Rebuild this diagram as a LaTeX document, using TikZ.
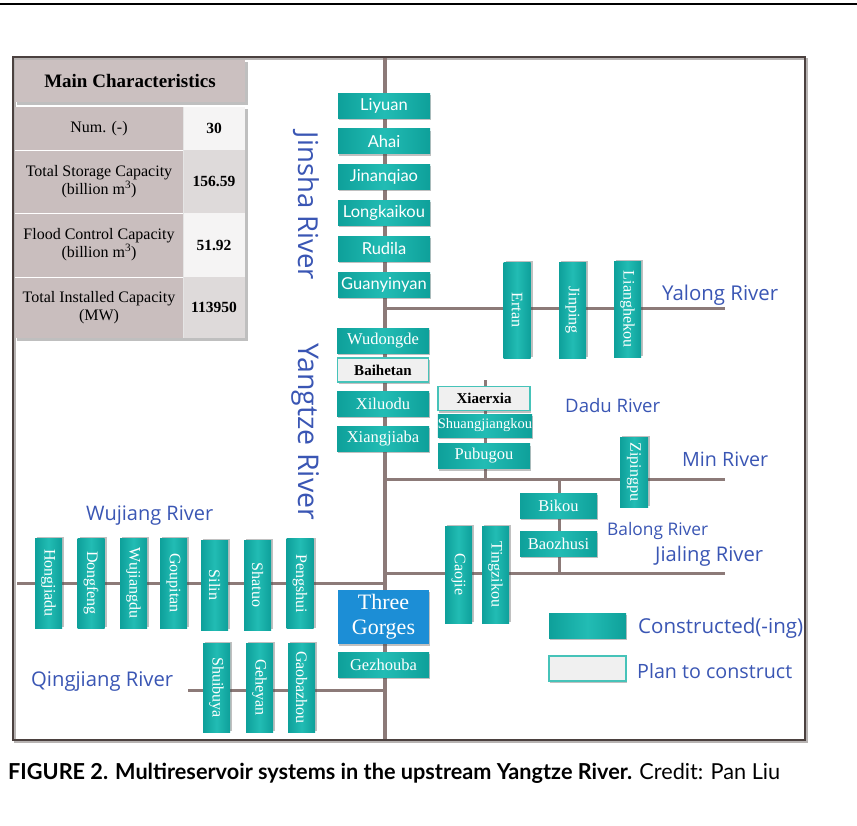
\documentclass[tikz,border=0pt]{standalone}
\usepackage{fontspec}
\setmainfont{Liberation Serif}
\newfontfamily\lsans{Lato}
\newfontfamily\osans{Open Sans}
\usetikzlibrary{shadows}
\newcommand{\fitw}[2]{\resizebox{#1}{!}{#2}}
\definecolor{tealbox}{RGB}{34,188,180}
\definecolor{tealdark}{RGB}{14,160,154}
\definecolor{riverline}{RGB}{140,122,120}
\definecolor{frameC}{RGB}{75,65,63}
\definecolor{blueTxt}{RGB}{58,86,180}
\definecolor{tgblue}{RGB}{28,142,214}
\definecolor{plangray}{RGB}{240,240,240}
\definecolor{planborder}{RGB}{70,195,185}
\definecolor{hdrC}{RGB}{203,192,192}
\definecolor{cellL}{RGB}{201,190,190}
\definecolor{cellR1}{RGB}{245,244,244}
\definecolor{cellR2}{RGB}{222,218,218}
\tikzset{
  shd/.style={drop shadow={shadow xshift=1pt,shadow yshift=-2pt,opacity=.35,fill=black!70}},
  shdv/.style={drop shadow={shadow xshift=2pt,shadow yshift=1pt,opacity=.35,fill=black!70}},
  tealfill/.style={left color=tealdark,right color=tealdark,middle color=tealbox},
  hbox/.style={tealfill,shd,minimum width=92pt,minimum height=25pt,inner sep=0pt,text=white},
  jbox/.style={hbox,font=\lsans\fontsize{16.5}{16.5}\selectfont},
  sbox/.style={hbox,font=\fontsize{16.5}{16.5}\selectfont},
  planbox/.style={draw=planborder,line width=1.2pt,fill=plangray,shd,minimum width=91pt,minimum height=24pt,inner sep=0pt,text=black,font=\bfseries\fontsize{15}{15}\selectfont},
  vbox/.style={tealfill,shdv,rotate=-90,minimum width=#1,minimum height=27pt,inner sep=0pt,text=white,font=\fontsize{16}{16}\selectfont},
  river/.style={draw=riverline,line width=3pt},
  mainriver/.style={draw=riverline,line width=4.5pt},
  rlabel/.style={text=blueTxt,font=\osans\fontsize{20}{20}\selectfont,inner sep=0pt},
  tcell/.style={align=center,font=\fontsize{16}{18}\selectfont,inner sep=0pt},
  tnum/.style={font=\bfseries\fontsize{15.5}{17}\selectfont,inner sep=0pt}
}
\begin{document}
\begin{tikzpicture}[x=1pt,y=-1pt]
\useasboundingbox (0,0) rectangle (857,825);
\fill[white] (0,0) rectangle (857,825);
% top rule
\draw[line width=2pt] (0,4) -- (857,4);
% frame
\draw[frameC!40,line width=2pt] (15,59) rectangle (807,742);
\draw[frameC,line width=2pt] (13,57) rectangle (805,740);

% table
\fill[black!25] (17,62) rectangle (248,105);
\fill[black!25] (17,109) rectangle (248,341);
\fill[hdrC] (15,60) rectangle (245,102);
\fill[cellL] (15,107) rectangle (183,338);
\fill[cellR1] (183,107) rectangle (245,150);
\fill[cellR2] (183,150) rectangle (245,213);
\fill[cellR1] (183,213) rectangle (245,277);
\fill[cellR2] (183,277) rectangle (245,338);
\draw[white,line width=1pt] (15,150) -- (183,150) (15,213) -- (183,213) (15,277) -- (183,277);
\draw[white!90!black,line width=0.8pt] (183,107) -- (183,338);
\node[font=\bfseries\fontsize{19}{20}\selectfont,inner sep=0pt] (thead) at (130,81) {Main Characteristics};
\node[tcell] (t1a) at (99,128.5) {Num. (-)};
\node[tnum] (t1b) at (214,128.5) {30};
\node[tcell] (t2a) at (99,181.5) {Total Storage Capacity\\(billion m\textsuperscript{3})};
\node[tnum] (t2b) at (214,181.5) {156.59};
\node[tcell] (t3a) at (99,245) {Flood Control Capacity\\(billion m\textsuperscript{3})};
\node[tnum] (t3b) at (214,245) {51.92};
\node[tcell] (t4a) at (99,307.5) {Total Installed Capacity\\(MW)};
\node[tnum] (t4b) at (214,307.5) {113950};

% river coordinates
\coordinate (ytop) at (385,58);
\coordinate (ybot) at (385,739);
\coordinate (yal0) at (385,308);
\coordinate (yal1) at (725,308);
\coordinate (min0) at (385,479);
\coordinate (min1) at (725,479);
\coordinate (dadu0) at (485,380);
\coordinate (dadu1) at (485,479);
\coordinate (bal0) at (559,479);
\coordinate (bal1) at (559,573);
\coordinate (jia0) at (385,573);
\coordinate (jia1) at (725,573);
\coordinate (wu0) at (17,583);
\coordinate (wu1) at (385,583);
\coordinate (qj0) at (188,690);
\coordinate (qj1) at (385,690);

\draw[river] (yal0) -- (yal1);
\draw[river] (min0) -- (min1);
\draw[river] (dadu0) -- (dadu1);
\draw[river] (bal0) -- (bal1);
\draw[river] (jia0) -- (jia1);
\draw[river] (wu0) -- (wu1);
\draw[river] (qj0) -- (qj1);
\draw[mainriver] (ytop) -- (ybot);

% Jinsha
\node[jbox] (liyuan) at (384,105.5) {Liyuan};
\node[jbox] (ahai) at (384,141) {Ahai};
\node[jbox] (jinanqiao) at (384,176.5) {Jinanqiao};
\node[jbox] (longkaikou) at (384,212.5) {Longkaikou};
\node[jbox] (rudila) at (384,248.5) {Rudila};
\node[jbox] (guanyinyan) at (384,284.5) {Guanyinyan};
% Yangtze
\node[sbox] (wudongde) at (383,340.5) {Wudongde};
\node[planbox] (baihetan) at (383,370) {Baihetan};
\node[sbox] (xiluodu) at (383,403.5) {Xiluodu};
\node[sbox] (xiangjiaba) at (383,438.5) {Xiangjiaba};
% Dadu
\node[planbox,minimum width=92pt] (xiaerxia) at (484,398.5) {Xiaerxia};
\node[sbox,minimum width=94pt,minimum height=23pt,font=\fontsize{14.5}{14.5}\selectfont] (shuangjiangkou) at (485,425.5) {Shuangjiangkou};
\node[sbox] (pubugou) at (484,456) {Pubugou};
% Yalong
\node[vbox=96pt] (ertan) at (517,310) {Ertan};
\node[vbox=96pt] (jinping) at (572.5,310) {Jinping};
\node[vbox=96pt] (lianghekou) at (627.5,309) {Lianghekou};
% Min
\node[vbox=70pt,minimum height=28pt] (zipingpu) at (634,472) {Zipingpu};
% Balong / Jialing
\node[hbox,minimum width=77pt,font=\fontsize{16.5}{16.5}\selectfont] (bikou) at (558.5,505.5) {Bikou};
\node[hbox,minimum width=77pt,font=\fontsize{16.5}{16.5}\selectfont] (baozhusi) at (558.5,543.5) {Baozhusi};
\node[vbox=97pt] (caojie) at (458.5,574.5) {Caojie};
\node[vbox=97pt] (tingzikou) at (495.5,574.5) {Tingzikou};
% Wujiang
\node[vbox=90pt] (hongjiadu) at (48.5,583) {Hongjiadu};
\node[vbox=90pt] (dongfeng) at (91,583) {Dongfeng};
\node[vbox=90pt] (wujiangdu) at (133.5,583) {Wujiangdu};
\node[vbox=90pt] (goupitan) at (173.5,583) {Goupitan};
\node[vbox=90pt] (silin) at (214.5,585) {Silin};
\node[vbox=90pt] (shatuo) at (257.5,585) {Shatuo};
\node[vbox=90pt] (pengshui) at (300,583.5) {Pengshui};
% Qingjiang
\node[vbox=89pt] (shuibuya) at (216.5,687.5) {Shuibuya};
\node[vbox=89pt] (geheyan) at (259.5,687.5) {Geheyan};
\node[vbox=89pt] (gaobazhou) at (301.5,687.5) {Gaobazhou};
% Three Gorges
\node[fill=tgblue,shd,minimum width=91pt,minimum height=54pt,inner sep=0pt,text=white,align=center,font=\fontsize{22}{25}\selectfont] (threegorges) at (383.5,617) {Three\\Gorges};
\node[hbox,minimum width=91pt,font=\fontsize{16.5}{16.5}\selectfont] (gezhouba) at (383.5,664.5) {Gezhouba};

% river labels
\node[rlabel,rotate=-90] (jinsha) at (306,206) {\fitw{148pt}{Jinsha River}};
\node[rlabel,rotate=-90] (yangtze) at (306,431.5) {\fitw{177pt}{Yangtze River}};
\node[rlabel,anchor=west] (yalong) at (662,295) {\fitw{116pt}{Yalong River}};
\node[rlabel,anchor=west] (dadu) at (565,406) {\fitw{95pt}{Dadu River}};
\node[rlabel,anchor=west] (minr) at (682,459) {\fitw{86pt}{Min River}};
\node[rlabel,anchor=west] (balong) at (607,531) {\fitw{101pt}{Balong River}};
\node[rlabel,anchor=west] (jialing) at (655,556) {\fitw{108pt}{Jialing River}};
\node[rlabel,anchor=west] (wujiang) at (86,516) {\fitw{127pt}{Wujiang River}};
\node[rlabel,anchor=west] (qingjiang) at (31,681) {\fitw{142pt}{Qingjiang River}};

% legend
\node[hbox,minimum width=77pt,minimum height=25pt] (legc) at (587.5,625.5) {};
\node[planbox,minimum width=77pt,minimum height=25pt] (legp) at (587.5,668.5) {};
\node[rlabel,anchor=west] (legct) at (638,628) {\fitw{165pt}{Constructed(-ing)}};
\node[rlabel,anchor=west] (legpt) at (637,671) {\fitw{155pt}{Plan to construct}};

% caption
\node[anchor=west,inner sep=0pt,font=\lsans\fontsize{22}{24}\selectfont] (caption) at (8,773) {\resizebox{772pt}{\height}{\bfseries FIGURE 2. Multireservoir systems in the upstream Yangtze River.\mdseries{} Credit: Pan Liu}};
\end{tikzpicture}
\end{document}
